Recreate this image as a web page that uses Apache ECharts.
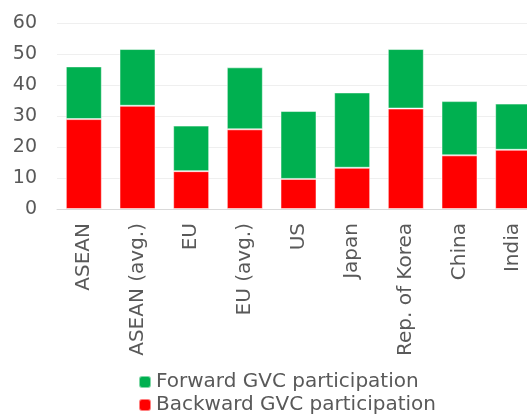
<!DOCTYPE html>
<html>
<head>
<meta charset="utf-8">
<script src="https://cdn.jsdelivr.net/npm/echarts@6/dist/echarts.min.js"></script>
<style>
  html, body { margin: 0; padding: 0; background: #fff; }
</style>
</head>
<body>
<div id="chart" style="width: 527px; height: 416px"></div>
<script>
const categories = ["ASEAN", "ASEAN (avg.)", "EU", "EU (avg.)", "US", "Japan", "Rep. of Korea", "China", "India"];
const backward = [29, 33.3, 12.2, 25.7, 9.7, 13.3, 32.4, 17.3, 19.1];
const forward = [17, 18.3, 14.7, 20, 21.9, 24.3, 19.2, 17.5, 14.9];
const yTicks = [0, 10, 20, 30, 40, 50, 60];

const chart = echarts.init(document.getElementById("chart"));
const labelFont = "DejaVu Sans";
const option = {
  animation: false,
  grid: {
    left: 57,
    top: 23,
    width: 483,
    height: 186,
    outerBoundsMode: "none",
  },
  legend: {
    orient: "vertical",
    left: 138,
    top: 372,
    height: 60,
    padding: 0,
    itemWidth: 12,
    itemHeight: 12,
    itemGap: 3,
    data: ["Forward GVC participation", "Backward GVC participation"],
    textStyle: {
      color: "#595959",
      fontSize: 20,
      fontFamily: labelFont,
    },
  },
  xAxis: {
    type: "category",
    data: categories,
    axisLine: { lineStyle: { color: "#d9d9d9" } },
    axisTick: { show: false },
    axisLabel: {
      rotate: 90,
      interval: 0,
      margin: 14,
      color: "#595959",
      fontSize: 20,
      fontFamily: labelFont,
    },
  },
  yAxis: {
    type: "value",
    min: yTicks[0],
    max: yTicks[yTicks.length - 1],
    interval: 10,
    axisLabel: {
      margin: 20,
      color: "#595959",
      fontSize: 19,
      fontFamily: labelFont,
    },
    splitLine: { lineStyle: { color: "#efefef" } },
  },
  series: [
    {
      name: "Backward GVC participation",
      type: "bar",
      stack: "a",
      barWidth: 36,
      data: backward,
      itemStyle: { color: "#ff0000", borderColor: "rgba(255,255,255,0.5)", borderWidth: 1 },
    },
    {
      name: "Forward GVC participation",
      type: "bar",
      stack: "a",
      barWidth: 36,
      data: forward,
      itemStyle: { color: "#00b050", borderColor: "rgba(255,255,255,0.5)", borderWidth: 1 },
    },
  ],
};
chart.setOption(option);
</script>
</body>
</html>
